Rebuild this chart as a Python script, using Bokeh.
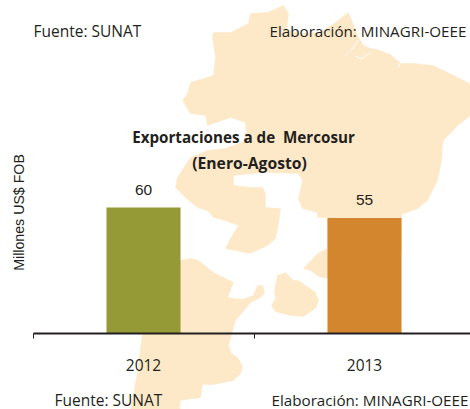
from bokeh.plotting import figure
from bokeh.models import Range1d, LinearAxis, FixedTicker, Label
from bokeh.core.properties import value
from bokeh.embed import file_html
from bokeh.resources import INLINE
import math

years = ["2012", "2013"]
exports = [60, 55]
bar_colors = ["#959a36", "#d3862d"]

# Background map outlines, traced in picture pixels
brazil_x = [250,267,283,288,286,300,320,335,348,353,358,363,370,376,390,400,413,433,447,467,470,470,457,443,442,441,437,427,417,401,401,360,327,318,310,303,317,327,327,317,317,302,298,302,298,262,233,233,250,262,265,265,280,278,275,267,250,225,230,238,225,213,207,197,185,175,177,190,207,225,246,245,230,207,205,190,182,187,190,213,215,212,213,230,248]
brazil_y = [13,12,5,13,30,33,32,22,12,25,37,45,48,49,54,63,63,65,72,82,84,115,125,140,143,160,180,200,208,214,250,270,278,276,270,268,253,248,217,217,212,208,198,180,173,172,175,185,187,187,193,207,208,223,238,245,253,248,238,225,220,217,210,207,197,187,177,157,150,148,140,122,117,125,115,113,100,93,82,75,57,37,32,32,23]
south_x = [150,180,190,198,213,233,227,242,253,257,262,264,260,250,235,231,228,231,238,242,240,233,213,202,200,180,179,180,130,137,142]
south_y = [270,260,258,260,272,282,297,299,295,285,285,292,297,302,320,334,345,353,358,366,373,380,384,384,397,400,407,409,409,372,333]
uruguay_x = [277,285,293,298,315,318,315,303,290,275,271,275,274]
uruguay_y = [275,272,280,280,292,300,308,316,315,311,305,298,290]
river_xs = [[358,352,345],[370,362,355],[398,400]]
river_ys = [[40,48,55],[52,58,56],[67,62]]

SCALE_X = 221.0
SCALE_Y = 2.1
W, H = 470, 409
AXIS_Y = 333

x_range = Range1d(-143 / SCALE_X, (W - 143) / SCALE_X)
y_range = Range1d(-(H - AXIS_Y) / SCALE_Y, AXIS_Y / SCALE_Y)
p = figure(width=W, height=H, x_range=x_range, y_range=y_range, output_backend="svg",
           toolbar_location=None, min_border=0, outline_line_color=None, tools="",
           background_fill_color="white", border_fill_color="white")
p.xgrid.visible = False
p.ygrid.visible = False
p.xaxis.visible = False
p.yaxis.visible = False
p.extra_x_ranges["px"] = Range1d(0, W)
p.extra_y_ranges["px"] = Range1d(H, 0)

MAP = "#fde9c8"
p.patches([brazil_x, south_x, uruguay_x], [brazil_y, south_y, uruguay_y], fill_color=MAP,
          line_color=MAP, line_width=0.5, x_range_name="px", y_range_name="px")
p.multi_line(river_xs, river_ys, line_color="white", line_width=1,
             x_range_name="px", y_range_name="px")

idx = list(range(len(years)))
p.vbar(x=idx, top=exports, bottom=0, width=0.335, fill_color=bar_colors, line_color=None)
p.text(x=idx, y=exports, text=[str(v) for v in exports], text_align="center", text_baseline="bottom",
       y_offset=-13, text_font=value("Liberation Sans"), text_font_size="15.5px", text_color="#231f20")

tick_axis = LinearAxis(fixed_location=0, ticker=FixedTicker(ticks=[-0.5, 0.5]),
                       major_label_overrides={-0.5: "", 0.5: ""}, axis_line_color="#231f20",
                       axis_line_width=2, major_tick_line_color="#231f20", major_tick_line_width=1,
                       major_tick_in=0, major_tick_out=5, bounds=(-0.5, 2))
label_axis = LinearAxis(fixed_location=0, ticker=FixedTicker(ticks=idx),
                        major_label_overrides=dict(zip(idx, years)), axis_line_color=None,
                        major_tick_line_color=None, major_label_standoff=19,
                        major_label_text_font="Open Sans", major_label_text_font_size="15.5px",
                        major_label_text_color="#231f20")
p.add_layout(tick_axis, "below")
p.add_layout(label_axis, "below")

def txt(s, x, y, size, font="Open Sans", style="normal", align="left", angle=0):
    p.add_layout(Label(x=x, y=y, text=s, x_range_name="px", y_range_name="px",
                       text_font=font, text_font_size=size, text_font_style=style,
                       text_align=align, text_baseline="middle", text_color="#231f20", angle=angle))

txt("Fuente: SUNAT", 33, 30, "15.5px")
txt("Elaboración: MINAGRI-OEEE", 269, 30, "15.2px")
txt("Fuente: SUNAT", 54, 399, "15.5px")
txt("Elaboración: MINAGRI-OEEE", 271, 399, "15.2px")
txt("Exportaciones a de\u00a0 Mercosur", 243, 136, "15.2px", style="bold", align="center")
txt("(Enero-Agosto)", 249, 162, "15.7px", style="bold", align="center")
txt("Millones US$ FOB", 18, 212, "14.2px", font="Liberation Sans", align="center", angle=math.pi / 2)

open("out.html", "w").write(file_html(p, INLINE))
